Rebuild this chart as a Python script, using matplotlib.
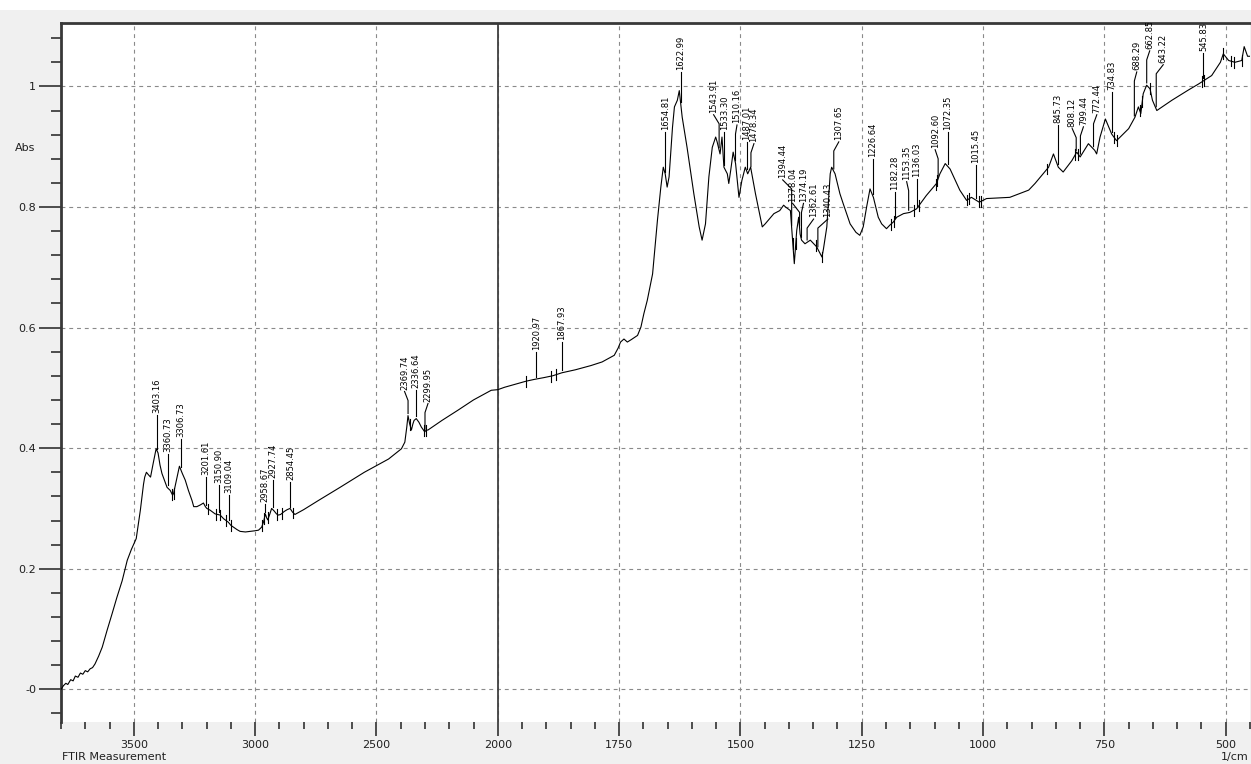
import numpy as np
import matplotlib
matplotlib.use("Agg")
import matplotlib.pyplot as plt
from matplotlib.patches import Rectangle

# FTIR absorbance spectrum (wavenumber in 1/cm, absorbance)
wavenumber = [
    3800, 3790, 3780, 3772, 3760, 3750, 3741, 3730, 3720, 3710, 3700, 3690, 3680, 3670,
    3660, 3645, 3630, 3610, 3589, 3570, 3548, 3527, 3510, 3490, 3473, 3460, 3455, 3448,
    3440, 3431, 3420, 3408, 3400, 3392, 3384, 3372, 3363, 3350, 3340, 3336, 3329, 3320,
    3312, 3300, 3288, 3275, 3260, 3253, 3240, 3225, 3213, 3205, 3199, 3185, 3165, 3155,
    3144, 3130, 3120, 3110, 3100, 3089, 3075, 3062, 3040, 3020, 3000, 2986, 2973, 2965,
    2958, 2952, 2948, 2940, 2932, 2922, 2912, 2904, 2895, 2880, 2868, 2856, 2846, 2836,
    2800, 2740, 2650, 2550, 2450, 2397, 2383, 2375, 2370, 2363, 2356, 2350, 2345, 2336,
    2325, 2315, 2301, 2295, 2288, 2230, 2164, 2100, 2027, 2000, 1986, 1960, 1942, 1925,
    1905, 1887, 1868, 1840, 1808, 1785, 1760, 1752, 1747, 1740, 1733, 1725, 1712, 1705,
    1699, 1692, 1681, 1671, 1664, 1659, 1655, 1651, 1647, 1640, 1636, 1630, 1626, 1620,
    1610, 1596, 1585, 1579, 1572, 1565, 1558, 1551, 1548, 1542, 1538, 1534, 1527, 1524,
    1520, 1515, 1510, 1503, 1497, 1490, 1485, 1479, 1469, 1455, 1449, 1431, 1419, 1411,
    1407, 1397, 1389, 1384, 1380, 1377, 1374, 1367, 1356, 1343, 1332, 1329, 1322, 1315,
    1312, 1305, 1295, 1288, 1274, 1262, 1254, 1247, 1240, 1233, 1226, 1216, 1209, 1199,
    1192, 1185, 1178, 1164, 1151, 1137, 1117, 1096, 1089, 1078, 1068, 1048, 1034, 1024,
    1008, 1000, 993, 945, 906, 893, 865, 855, 845, 835, 817, 807, 800, 783,
    770, 766, 759, 748, 735, 725, 700, 687, 680, 675, 670, 663, 656, 651,
    642, 611, 577, 556, 529, 511, 505, 494, 481, 467, 462, 455, 450,
]
absorbance = [
    0.000, 0.006, 0.010, 0.008, 0.016, 0.014, 0.022, 0.020, 0.027, 0.025, 0.031, 0.029, 0.034, 0.036,
    0.042, 0.055, 0.070, 0.098, 0.126, 0.152, 0.180, 0.214, 0.232, 0.250, 0.297, 0.340, 0.352, 0.360,
    0.356, 0.352, 0.375, 0.399, 0.392, 0.372, 0.358, 0.345, 0.335, 0.330, 0.322, 0.325, 0.338, 0.355,
    0.370, 0.358, 0.347, 0.330, 0.313, 0.303, 0.303, 0.306, 0.309, 0.303, 0.300, 0.297, 0.291, 0.290,
    0.289, 0.283, 0.280, 0.277, 0.272, 0.269, 0.265, 0.262, 0.261, 0.262, 0.263, 0.264, 0.269, 0.278,
    0.291, 0.284, 0.281, 0.290, 0.300, 0.296, 0.291, 0.289, 0.290, 0.295, 0.298, 0.300, 0.294, 0.290,
    0.298, 0.313, 0.335, 0.360, 0.382, 0.399, 0.410, 0.435, 0.454, 0.440, 0.430, 0.440, 0.446, 0.449,
    0.443, 0.435, 0.427, 0.430, 0.430, 0.446, 0.463, 0.480, 0.496, 0.497, 0.501, 0.507, 0.511, 0.514,
    0.517, 0.520, 0.525, 0.530, 0.537, 0.543, 0.554, 0.566, 0.576, 0.581, 0.576, 0.580, 0.587, 0.601,
    0.623, 0.645, 0.689, 0.778, 0.833, 0.866, 0.855, 0.833, 0.850, 0.932, 0.966, 0.977, 0.993, 0.949,
    0.899, 0.822, 0.767, 0.745, 0.772, 0.850, 0.899, 0.916, 0.908, 0.888, 0.916, 0.866, 0.855, 0.839,
    0.861, 0.891, 0.872, 0.816, 0.844, 0.866, 0.855, 0.866, 0.822, 0.767, 0.772, 0.789, 0.794, 0.803,
    0.800, 0.794, 0.706, 0.761, 0.783, 0.755, 0.745, 0.739, 0.745, 0.734, 0.717, 0.730, 0.767, 0.855,
    0.866, 0.855, 0.822, 0.805, 0.772, 0.758, 0.753, 0.767, 0.800, 0.830, 0.816, 0.783, 0.772, 0.764,
    0.770, 0.775, 0.783, 0.789, 0.791, 0.797, 0.819, 0.839, 0.855, 0.872, 0.863, 0.828, 0.811, 0.816,
    0.808, 0.811, 0.814, 0.816, 0.828, 0.839, 0.866, 0.888, 0.866, 0.858, 0.877, 0.891, 0.883, 0.905,
    0.894, 0.888, 0.916, 0.946, 0.921, 0.910, 0.930, 0.949, 0.966, 0.955, 0.988, 1.002, 0.996, 0.977,
    0.960, 0.977, 0.994, 1.004, 1.018, 1.040, 1.054, 1.043, 1.040, 1.043, 1.066, 1.050, 1.050,
]

# picked peaks
peak_labels = [
    "3403.16", "3360.73", "3306.73", "3201.61", "3150.90", "3109.04", "2958.67", "2927.74",
    "2854.45", "2369.74", "2336.64", "2299.95", "1920.97", "1867.93", "1654.81", "1622.99",
    "1543.91", "1533.30", "1510.16", "1487.01", "1478.34", "1394.44", "1378.04", "1374.19",
    "1362.61", "1340.43", "1307.65", "1226.64", "1182.28", "1153.35", "1136.03", "1092.60",
    "1072.35", "1015.45", "845.73", "808.12", "799.44", "772.44", "734.83", "688.29",
    "662.85", "643.22", "545.83",
]

# where each label text starts (absorbance) and sideways nudge in pixels
label_base = [
    0.458, 0.394, 0.419, 0.355, 0.342, 0.326, 0.311, 0.351,
    0.347, 0.497, 0.500, 0.477, 0.563, 0.579, 0.928, 1.027,
    0.956, 0.928, 0.939, 0.911, 0.908, 0.848, 0.809, 0.809,
    0.783, 0.783, 0.911, 0.883, 0.828, 0.845, 0.850, 0.898,
    0.928, 0.873, 0.939, 0.933, 0.936, 0.956, 0.994, 1.027,
    1.062, 1.039, 1.058,
]
label_dx = {
    "2369.74": -3.5, "2299.95": 3, "1543.91": -5.5, "1510.16": 1.5, "1478.34": 3,
    "1394.44": -9, "1378.04": -7, "1374.19": 2, "1362.61": 6.5, "1340.43": 10,
    "1307.65": 5, "1153.35": -2, "1092.60": -3, "808.12": -4, "799.44": 3,
    "772.44": 3.3, "688.29": 2.4, "662.85": 3, "643.22": 7,
}

# small peak-pick ticks on the trace
pick_marks = [
    3342, 3336, 3195, 3160, 3145, 3118, 3100, 2970, 2962, 2945, 2910, 2890, 2842,
    2362, 2305, 2297, 1942, 1890, 1880, 1392, 1386, 1345, 1332, 1190, 1184, 1142,
    1132, 1098, 1094, 1033, 1028, 1009, 1004, 868, 810, 804, 730, 725, 677, 672,
    656, 548, 544, 505, 490, 482, 467,
]

major_x = [3500, 3000, 2500, 2000, 1750, 1500, 1250, 1000, 750, 500]
minor_x = list(range(3800, 2000, -100)) + list(range(2000, 449, -50))
major_y = [0, 0.2, 0.4, 0.6, 0.8, 1.0]
major_y_text = ["-0", "0.2", "0.4", "0.6", "0.8", "1"]


def fwd(x):
    # above 2000 1/cm the axis is compressed by half
    x = np.asarray(x, dtype=float)
    return np.where(x > 2000, 2000 + (x - 2000) / 2.0, x)


def inv(u):
    u = np.asarray(u, dtype=float)
    return np.where(u > 2000, 2000 + (u - 2000) * 2.0, u)


W, H = 1251, 764
fig = plt.figure(figsize=(W / 100, H / 100), dpi=100, facecolor="#f0f0f0")
fig.patches.append(Rectangle((0, 1 - 10 / H), 1, 10 / H, transform=fig.transFigure,
                             facecolor="white", edgecolor="none", zorder=0))

ax = fig.add_axes([61 / W, 42 / H, 1189 / W, 699.5 / H])
ax.set_facecolor("white")
ax.set_xscale("function", functions=(fwd, inv))
ax.set_xlim(3800, 450)
ax.set_ylim(-0.0542, 1.106)

ax.set_xticks(major_x)
ax.set_xticklabels([str(v) for v in major_x])
ax.set_xticks(minor_x, minor=True)
ax.set_yticks(major_y)
ax.set_yticklabels(major_y_text)
ax.set_yticks(np.arange(-0.04, 1.1, 0.04), minor=True)

ax.tick_params(axis="both", which="both", direction="out", width=1.2,
               color="#303030", labelsize=8, labelcolor="#202020")
ax.tick_params(axis="x", which="major", length=10, pad=3)
ax.tick_params(axis="x", which="minor", length=5)
ax.tick_params(axis="y", which="major", length=16, pad=2)
ax.tick_params(axis="y", which="minor", length=7.5)

for s in ["bottom", "right"]:
    ax.spines[s].set_visible(False)
for s in ["left", "top"]:
    ax.spines[s].set_linewidth(2)
    ax.spines[s].set_color("#383838")

ax.grid(True, which="major", color="#8a8a8a", linestyle=(0, (3.5, 3.5)), linewidth=0.8)
ax.set_axisbelow(True)
ax.axvline(2000, color="#404040", linewidth=1.3, zorder=1)

ax.plot(wavenumber, absorbance, color="black", linewidth=0.8, zorder=3)

wn_inc = np.array(wavenumber[::-1], dtype=float)
ab_inc = np.array(absorbance[::-1], dtype=float)
px_per_u = 1189 / (fwd(3800) - fwd(450))

for wn_txt, base in zip(peak_labels, label_base):
    wn = float(wn_txt)
    peak = np.interp(wn, wn_inc, ab_inc)
    dx = label_dx.get(wn_txt, 0)
    wn_text = float(inv(fwd(wn) - dx / px_per_u))
    ax.text(wn_text, base, wn_txt, rotation=90, ha="center", va="bottom",
            fontsize=6, color="black", clip_on=True, zorder=4)
    if dx:
        xs = [wn_text, wn, wn]
        ys = [base - 0.003, base - 0.018, peak + 0.004]
    else:
        xs = [wn, wn]
        ys = [base - 0.003, peak + 0.004]
    ax.plot(xs, ys, color="black", linewidth=0.8, zorder=4, clip_on=True)

for wn in pick_marks:
    y = np.interp(wn, wn_inc, ab_inc)
    ax.plot([wn, wn], [y - 0.009, y + 0.009], color="black", linewidth=0.8, zorder=4)

fig.text(25 / W, 1 - 148 / H, "Abs", ha="center", va="center", fontsize=8, color="#202020")
fig.text(62 / W, 1 - 757 / H, "FTIR Measurement", ha="left", va="center",
         fontsize=8, color="#202020")
fig.text(1249 / W, 1 - 757 / H, "1/cm", ha="right", va="center", fontsize=8, color="#202020")

fig.savefig("out.png", dpi=100, facecolor=fig.get_facecolor())
